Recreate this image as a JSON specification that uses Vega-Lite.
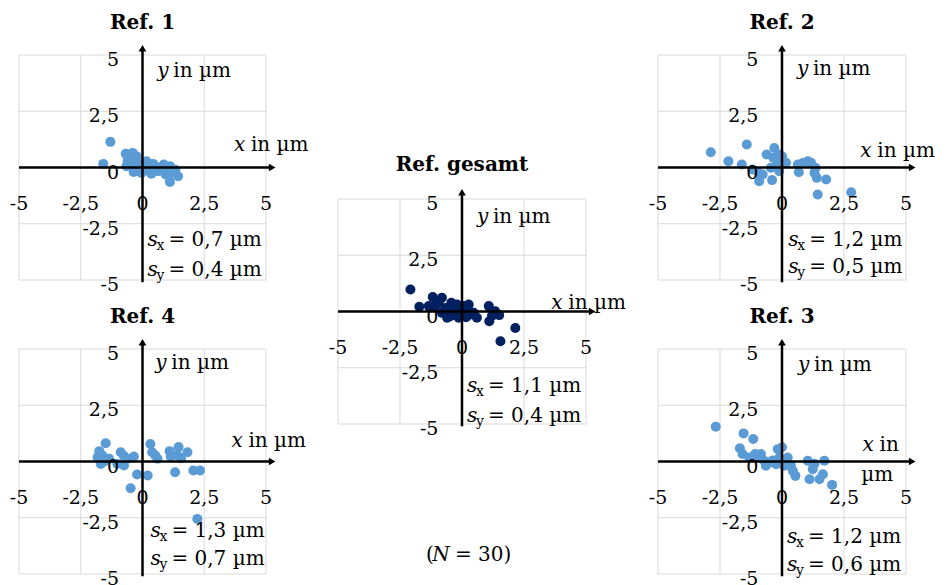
{
"$schema": "https://vega.github.io/schema/vega-lite/v6.json",
"padding": {"left": 9, "top": 12, "right": 0, "bottom": 0},
"background": "white",
"columns": 3, "bounds": "flush", "spacing": {"row": 69, "column": 72},
"datasets": {
"ticks": [{"v":-5,"l":"-5"},{"v":-2.5,"l":"-2,5"},{"v":0,"l":"0"},{"v":2.5,"l":"2,5"},{"v":5,"l":"5"}],
"ref1": [{"x":-1.30,"y":1.14},{"x":-1.59,"y":0.16},{"x":-0.68,"y":0.61},{"x":-0.40,"y":0.65},{"x":-0.51,"y":0.36},{"x":-0.31,"y":0.36},{"x":-0.45,"y":0.06},{"x":-0.27,"y":-0.16},{"x":-0.11,"y":0.21},{"x":0.16,"y":0.28},{"x":0.30,"y":0.06},{"x":0.36,"y":-0.28},{"x":0.64,"y":-0.16},{"x":0.86,"y":0.13},{"x":1.11,"y":0.06},{"x":1.17,"y":-0.24},{"x":1.44,"y":-0.39},{"x":1.11,"y":-0.64},{"x":-0.04,"y":-0.24},{"x":0.09,"y":-0.01},{"x":-0.65,"y":0.06},{"x":0.57,"y":0.01},{"x":0.94,"y":-0.31},{"x":-0.24,"y":0.50},{"x":0.43,"y":0.16},{"x":0.82,"y":-0.05},{"x":-0.36,"y":-0.20},{"x":0.20,"y":-0.12},{"x":1.33,"y":-0.10},{"x":-0.60,"y":0.30}],
"ref2": [{"x":-2.87,"y":0.68},{"x":-2.16,"y":0.28},{"x":-1.62,"y":0.13},{"x":-1.42,"y":1.02},{"x":-1.19,"y":-0.09},{"x":-0.92,"y":-0.61},{"x":-0.78,"y":-0.31},{"x":-0.40,"y":-0.56},{"x":-0.62,"y":0.58},{"x":-0.31,"y":0.87},{"x":-0.35,"y":0.43},{"x":-0.13,"y":0.58},{"x":-0.24,"y":0.06},{"x":-0.11,"y":-0.16},{"x":0.16,"y":0.21},{"x":0.64,"y":0.13},{"x":0.68,"y":-0.21},{"x":1.04,"y":0.28},{"x":1.17,"y":0.21},{"x":1.35,"y":-0.01},{"x":1.31,"y":-0.24},{"x":1.40,"y":-0.46},{"x":1.78,"y":-0.53},{"x":1.44,"y":-1.20},{"x":-0.13,"y":0.21},{"x":-0.45,"y":-0.01},{"x":0.84,"y":0.20},{"x":0.00,"y":0.50},{"x":2.79,"y":-1.10},{"x":-0.94,"y":-0.24}],
"gesamt": [{"x":-2.08,"y":0.98},{"x":-1.72,"y":0.21},{"x":-1.18,"y":0.64},{"x":-0.81,"y":0.61},{"x":-1.08,"y":0.24},{"x":-0.67,"y":0.16},{"x":-0.43,"y":0.39},{"x":-0.20,"y":0.31},{"x":0.07,"y":0.24},{"x":0.24,"y":0.09},{"x":0.47,"y":-0.06},{"x":0.60,"y":-0.28},{"x":-0.47,"y":-0.21},{"x":-0.13,"y":-0.28},{"x":0.16,"y":-0.25},{"x":1.08,"y":0.24},{"x":1.34,"y":0.01},{"x":1.50,"y":-0.16},{"x":1.10,"y":-0.43},{"x":2.15,"y":-0.73},{"x":1.55,"y":-1.32},{"x":-0.81,"y":-0.06},{"x":-0.34,"y":0.02},{"x":0.34,"y":-0.13},{"x":-0.94,"y":0.39},{"x":-0.07,"y":-0.04},{"x":1.21,"y":-0.19},{"x":-0.60,"y":-0.28},{"x":0.27,"y":0.31},{"x":-1.34,"y":0.24}],
"ref4": [{"x":-1.49,"y":0.81},{"x":-1.75,"y":0.46},{"x":-1.62,"y":0.27},{"x":-1.69,"y":-0.11},{"x":-1.35,"y":0.12},{"x":-0.88,"y":0.41},{"x":-0.75,"y":-0.18},{"x":-0.62,"y":0.12},{"x":-0.35,"y":0.22},{"x":-0.22,"y":-0.58},{"x":-0.48,"y":-1.19},{"x":0.21,"y":-0.62},{"x":0.32,"y":0.78},{"x":0.39,"y":0.41},{"x":0.61,"y":0.12},{"x":1.10,"y":0.46},{"x":1.46,"y":0.64},{"x":1.42,"y":0.27},{"x":1.82,"y":0.41},{"x":1.32,"y":-0.48},{"x":2.06,"y":-0.40},{"x":2.33,"y":-0.40},{"x":2.22,"y":-2.55},{"x":-1.02,"y":-0.11},{"x":-1.82,"y":0.19},{"x":1.14,"y":0.22},{"x":0.52,"y":0.27},{"x":-0.75,"y":0.24},{"x":-1.55,"y":0.00},{"x":1.56,"y":0.14}],
"ref3": [{"x":-2.67,"y":1.55},{"x":-1.55,"y":1.25},{"x":-1.16,"y":1.00},{"x":-1.70,"y":0.59},{"x":-1.59,"y":0.33},{"x":-1.08,"y":0.33},{"x":-0.85,"y":0.33},{"x":-0.72,"y":0.03},{"x":-0.51,"y":-0.04},{"x":-0.24,"y":-0.12},{"x":-0.17,"y":0.55},{"x":0.00,"y":0.63},{"x":0.23,"y":0.18},{"x":0.36,"y":-0.19},{"x":0.54,"y":-0.64},{"x":1.04,"y":0.03},{"x":1.24,"y":-0.34},{"x":1.11,"y":-0.79},{"x":1.71,"y":0.03},{"x":1.65,"y":-0.57},{"x":1.51,"y":-0.79},{"x":2.02,"y":-1.04},{"x":-0.65,"y":-0.19},{"x":-0.92,"y":0.19},{"x":0.09,"y":-0.19},{"x":-1.32,"y":0.18},{"x":-0.38,"y":0.05},{"x":0.44,"y":-0.42},{"x":1.31,"y":-0.10},{"x":-0.10,"y":0.18}]
},
"concat": [
{
"width": 247, "height": 225, "title": {"text": "Ref. 1"},
"layer": [
{"data":{"name":"ticks"},"mark":{"type":"rule","color":"#d9d9d9","strokeWidth":1},"encoding":{"x":{"field":"v","type":"quantitative","scale":{"domain":[-5,5],"nice":false}},"y":{"datum":-5,"scale":{"domain":[-5,5],"nice":false}},"y2":{"datum":5}}},
{"data":{"name":"ticks"},"mark":{"type":"rule","color":"#d9d9d9","strokeWidth":1},"encoding":{"y":{"field":"v","type":"quantitative"},"x":{"datum":-5},"x2":{"datum":5}}},
{"data":{"name":"ref1"},"mark":{"type":"circle","size":100,"opacity":1,"color":"#5B9BD5"},"encoding":{"x":{"field":"x","type":"quantitative"},"y":{"field":"y","type":"quantitative"}}},
{"data":{"values":[{}]},"mark":{"type":"rule","strokeWidth":2.5,"color":"black"},"encoding":{"x":{"datum":-5},"x2":{"datum":5.25},"y":{"datum":0}}},
{"data":{"values":[{}]},"mark":{"type":"rule","strokeWidth":2.5,"color":"black"},"encoding":{"x":{"datum":0},"y":{"datum":-5.1},"y2":{"datum":5.3}}},
{"data":{"values":[{}]},"mark":{"type":"point","shape":"triangle-right","filled":true,"size":60,"color":"black","opacity":1},"encoding":{"x":{"datum":5.25},"y":{"datum":0}}},
{"data":{"values":[{}]},"mark":{"type":"point","shape":"triangle-up","filled":true,"size":60,"color":"black","opacity":1},"encoding":{"x":{"datum":0},"y":{"datum":5.3}}},
{"data":{"name":"ticks"},"mark":{"type":"text"},"encoding":{"x":{"field":"v","type":"quantitative"},"y":{"datum":-1.6},"text":{"field":"l"}}},
{"data":{"name":"ticks"},"mark":{"type":"text","align":"right","dy":5},"encoding":{"y":{"field":"v","type":"quantitative"},"x":{"datum":-0.95},"text":{"field":"l"}}},
{"data":{"values":[{"t":"x"}]},"mark":{"type":"text","align":"left","fontStyle":"italic","fontSize":20},"encoding":{"x":{"datum":3.7},"y":{"datum":1.0},"text":{"field":"t"}}},
{"data":{"values":[{"t":"in µm"}]},"mark":{"type":"text","align":"left","dx":17,"fontSize":20},"encoding":{"x":{"datum":3.7},"y":{"datum":1.0},"text":{"field":"t"}}},
{"data":{"values":[{"t":"y"}]},"mark":{"type":"text","align":"left","fontStyle":"italic","fontSize":20},"encoding":{"x":{"datum":0.6},"y":{"datum":4.3},"text":{"field":"t"}}},
{"data":{"values":[{"t":"in µm"}]},"mark":{"type":"text","align":"left","dx":16,"fontSize":20},"encoding":{"x":{"datum":0.6},"y":{"datum":4.3},"text":{"field":"t"}}},
{"data":{"values":[{}]},"mark":{"type":"text","align":"left","fontStyle":"italic","fontSize":20,"text":["s","s"],"lineHeight":30},"encoding":{"x":{"datum":0.2},"y":{"datum":-3.24}}},
{"data":{"values":[{}]},"mark":{"type":"text","align":"left","fontSize":14,"dx":9,"dy":6,"text":["x","y"],"lineHeight":30},"encoding":{"x":{"datum":0.2},"y":{"datum":-3.24}}},
{"data":{"values":[{}]},"mark":{"type":"text","align":"left","fontSize":20,"dx":21,"text":["= 0,7 µm","= 0,4 µm"],"lineHeight":30},"encoding":{"x":{"datum":0.2},"y":{"datum":-3.24}}}
]
},
{
"width": 248, "height": 225,
"layer": [
{"data":{"name":"ticks"},"mark":{"type":"rule","color":"#d9d9d9","strokeWidth":1},"encoding":{"x":{"field":"v","type":"quantitative","scale":{"domain":[-5,5],"nice":false}},"y":{"datum":-5,"scale":{"domain":[-5,5],"nice":false,"range":[369,144]}},"y2":{"datum":5}}},
{"data":{"name":"ticks"},"mark":{"type":"rule","color":"#d9d9d9","strokeWidth":1},"encoding":{"y":{"field":"v","type":"quantitative","scale":{"domain":[-5,5],"nice":false,"range":[369,144]}},"x":{"datum":-5},"x2":{"datum":5}}},
{"data":{"name":"gesamt"},"mark":{"type":"circle","size":100,"opacity":1,"color":"#002060"},"encoding":{"x":{"field":"x","type":"quantitative"},"y":{"field":"y","type":"quantitative"}}},
{"data":{"values":[{}]},"mark":{"type":"rule","strokeWidth":2.5,"color":"black"},"encoding":{"x":{"datum":-5},"x2":{"datum":5.25},"y":{"datum":0}}},
{"data":{"values":[{}]},"mark":{"type":"rule","strokeWidth":2.5,"color":"black"},"encoding":{"x":{"datum":0},"y":{"datum":-5.1},"y2":{"datum":5.3}}},
{"data":{"values":[{}]},"mark":{"type":"point","shape":"triangle-right","filled":true,"size":60,"color":"black","opacity":1},"encoding":{"x":{"datum":5.25},"y":{"datum":0}}},
{"data":{"values":[{}]},"mark":{"type":"point","shape":"triangle-up","filled":true,"size":60,"color":"black","opacity":1},"encoding":{"x":{"datum":0},"y":{"datum":5.3}}},
{"data":{"name":"ticks"},"mark":{"type":"text"},"encoding":{"x":{"field":"v","type":"quantitative"},"y":{"datum":-1.6},"text":{"field":"l"}}},
{"data":{"name":"ticks"},"mark":{"type":"text","align":"right","dy":5},"encoding":{"y":{"field":"v","type":"quantitative"},"x":{"datum":-0.95},"text":{"field":"l"}}},
{"data":{"values":[{"t":"Ref. gesamt"}]},"mark":{"type":"text","fontWeight":"bold","fontSize":20,"baseline":"alphabetic"},"encoding":{"x":{"datum":0},"y":{"datum":6.25},"text":{"field":"t"}}},
{"data":{"values":[{"t":"x"}]},"mark":{"type":"text","align":"left","fontStyle":"italic","fontSize":20},"encoding":{"x":{"datum":3.6},"y":{"datum":0.4},"text":{"field":"t"}}},
{"data":{"values":[{"t":"in µm"}]},"mark":{"type":"text","align":"left","dx":17,"fontSize":20},"encoding":{"x":{"datum":3.6},"y":{"datum":0.4},"text":{"field":"t"}}},
{"data":{"values":[{"t":"y"}]},"mark":{"type":"text","align":"left","fontStyle":"italic","fontSize":20},"encoding":{"x":{"datum":0.6},"y":{"datum":4.2},"text":{"field":"t"}}},
{"data":{"values":[{"t":"in µm"}]},"mark":{"type":"text","align":"left","dx":16,"fontSize":20},"encoding":{"x":{"datum":0.6},"y":{"datum":4.2},"text":{"field":"t"}}},
{"data":{"values":[{}]},"mark":{"type":"text","align":"left","fontStyle":"italic","fontSize":20,"text":["s","s"],"lineHeight":30},"encoding":{"x":{"datum":0.2},"y":{"datum":-3.29}}},
{"data":{"values":[{}]},"mark":{"type":"text","align":"left","fontSize":14,"dx":9,"dy":6,"text":["x","y"],"lineHeight":30},"encoding":{"x":{"datum":0.2},"y":{"datum":-3.29}}},
{"data":{"values":[{}]},"mark":{"type":"text","align":"left","fontSize":20,"dx":21,"text":["= 1,1 µm","= 0,4 µm"],"lineHeight":30},"encoding":{"x":{"datum":0.2},"y":{"datum":-3.29}}},
{"data":{"values":[{"t":"("}]},"mark":{"type":"text","align":"right","dx":-7,"fontSize":20},"encoding":{"x":{"datum":-0.85},"y":{"datum":-10.82},"text":{"field":"t"}}},
{"data":{"values":[{"t":"N"}]},"mark":{"type":"text","align":"center","fontStyle":"italic","fontSize":20},"encoding":{"x":{"datum":-0.85},"y":{"datum":-10.82},"text":{"field":"t"}}},
{"data":{"values":[{"t":"= 30)"}]},"mark":{"type":"text","align":"left","dx":14,"fontSize":20},"encoding":{"x":{"datum":-0.85},"y":{"datum":-10.82},"text":{"field":"t"}}}
]
},
{
"width": 248, "height": 225, "title": {"text": "Ref. 2"},
"layer": [
{"data":{"name":"ticks"},"mark":{"type":"rule","color":"#d9d9d9","strokeWidth":1},"encoding":{"x":{"field":"v","type":"quantitative","scale":{"domain":[-5,5],"nice":false}},"y":{"datum":-5,"scale":{"domain":[-5,5],"nice":false}},"y2":{"datum":5}}},
{"data":{"name":"ticks"},"mark":{"type":"rule","color":"#d9d9d9","strokeWidth":1},"encoding":{"y":{"field":"v","type":"quantitative"},"x":{"datum":-5},"x2":{"datum":5}}},
{"data":{"name":"ref2"},"mark":{"type":"circle","size":100,"opacity":1,"color":"#5B9BD5"},"encoding":{"x":{"field":"x","type":"quantitative"},"y":{"field":"y","type":"quantitative"}}},
{"data":{"values":[{}]},"mark":{"type":"rule","strokeWidth":2.5,"color":"black"},"encoding":{"x":{"datum":-5},"x2":{"datum":5.25},"y":{"datum":0}}},
{"data":{"values":[{}]},"mark":{"type":"rule","strokeWidth":2.5,"color":"black"},"encoding":{"x":{"datum":0},"y":{"datum":-5.1},"y2":{"datum":5.3}}},
{"data":{"values":[{}]},"mark":{"type":"point","shape":"triangle-right","filled":true,"size":60,"color":"black","opacity":1},"encoding":{"x":{"datum":5.25},"y":{"datum":0}}},
{"data":{"values":[{}]},"mark":{"type":"point","shape":"triangle-up","filled":true,"size":60,"color":"black","opacity":1},"encoding":{"x":{"datum":0},"y":{"datum":5.3}}},
{"data":{"name":"ticks"},"mark":{"type":"text"},"encoding":{"x":{"field":"v","type":"quantitative"},"y":{"datum":-1.6},"text":{"field":"l"}}},
{"data":{"name":"ticks"},"mark":{"type":"text","align":"right","dy":5},"encoding":{"y":{"field":"v","type":"quantitative"},"x":{"datum":-0.95},"text":{"field":"l"}}},
{"data":{"values":[{"t":"x"}]},"mark":{"type":"text","align":"left","fontStyle":"italic","fontSize":20},"encoding":{"x":{"datum":3.16},"y":{"datum":0.75},"text":{"field":"t"}}},
{"data":{"values":[{"t":"in µm"}]},"mark":{"type":"text","align":"left","dx":17,"fontSize":20},"encoding":{"x":{"datum":3.16},"y":{"datum":0.75},"text":{"field":"t"}}},
{"data":{"values":[{"t":"y"}]},"mark":{"type":"text","align":"left","fontStyle":"italic","fontSize":20},"encoding":{"x":{"datum":0.6},"y":{"datum":4.36},"text":{"field":"t"}}},
{"data":{"values":[{"t":"in µm"}]},"mark":{"type":"text","align":"left","dx":16,"fontSize":20},"encoding":{"x":{"datum":0.6},"y":{"datum":4.36},"text":{"field":"t"}}},
{"data":{"values":[{}]},"mark":{"type":"text","align":"left","fontStyle":"italic","fontSize":20,"text":["s","s"],"lineHeight":27},"encoding":{"x":{"datum":0.25},"y":{"datum":-3.24}}},
{"data":{"values":[{}]},"mark":{"type":"text","align":"left","fontSize":14,"dx":9,"dy":6,"text":["x","y"],"lineHeight":27},"encoding":{"x":{"datum":0.25},"y":{"datum":-3.24}}},
{"data":{"values":[{}]},"mark":{"type":"text","align":"left","fontSize":20,"dx":21,"text":["= 1,2 µm","= 0,5 µm"],"lineHeight":27},"encoding":{"x":{"datum":0.25},"y":{"datum":-3.24}}}
]
},
{
"width": 247, "height": 225, "title": {"text": "Ref. 4"},
"layer": [
{"data":{"name":"ticks"},"mark":{"type":"rule","color":"#d9d9d9","strokeWidth":1},"encoding":{"x":{"field":"v","type":"quantitative","scale":{"domain":[-5,5],"nice":false}},"y":{"datum":-5,"scale":{"domain":[-5,5],"nice":false}},"y2":{"datum":5}}},
{"data":{"name":"ticks"},"mark":{"type":"rule","color":"#d9d9d9","strokeWidth":1},"encoding":{"y":{"field":"v","type":"quantitative"},"x":{"datum":-5},"x2":{"datum":5}}},
{"data":{"name":"ref4"},"mark":{"type":"circle","size":100,"opacity":1,"color":"#5B9BD5"},"encoding":{"x":{"field":"x","type":"quantitative"},"y":{"field":"y","type":"quantitative"}}},
{"data":{"values":[{}]},"mark":{"type":"rule","strokeWidth":2.5,"color":"black"},"encoding":{"x":{"datum":-5},"x2":{"datum":5.25},"y":{"datum":0}}},
{"data":{"values":[{}]},"mark":{"type":"rule","strokeWidth":2.5,"color":"black"},"encoding":{"x":{"datum":0},"y":{"datum":-5.1},"y2":{"datum":5.3}}},
{"data":{"values":[{}]},"mark":{"type":"point","shape":"triangle-right","filled":true,"size":60,"color":"black","opacity":1},"encoding":{"x":{"datum":5.25},"y":{"datum":0}}},
{"data":{"values":[{}]},"mark":{"type":"point","shape":"triangle-up","filled":true,"size":60,"color":"black","opacity":1},"encoding":{"x":{"datum":0},"y":{"datum":5.3}}},
{"data":{"name":"ticks"},"mark":{"type":"text"},"encoding":{"x":{"field":"v","type":"quantitative"},"y":{"datum":-1.6},"text":{"field":"l"}}},
{"data":{"name":"ticks"},"mark":{"type":"text","align":"right","dy":5},"encoding":{"y":{"field":"v","type":"quantitative"},"x":{"datum":-0.95},"text":{"field":"l"}}},
{"data":{"values":[{"t":"x"}]},"mark":{"type":"text","align":"left","fontStyle":"italic","fontSize":20},"encoding":{"x":{"datum":3.6},"y":{"datum":0.9},"text":{"field":"t"}}},
{"data":{"values":[{"t":"in µm"}]},"mark":{"type":"text","align":"left","dx":17,"fontSize":20},"encoding":{"x":{"datum":3.6},"y":{"datum":0.9},"text":{"field":"t"}}},
{"data":{"values":[{"t":"y"}]},"mark":{"type":"text","align":"left","fontStyle":"italic","fontSize":20},"encoding":{"x":{"datum":0.52},"y":{"datum":4.36},"text":{"field":"t"}}},
{"data":{"values":[{"t":"in µm"}]},"mark":{"type":"text","align":"left","dx":16,"fontSize":20},"encoding":{"x":{"datum":0.52},"y":{"datum":4.36},"text":{"field":"t"}}},
{"data":{"values":[{}]},"mark":{"type":"text","align":"left","fontStyle":"italic","fontSize":20,"text":["s","s"],"lineHeight":28},"encoding":{"x":{"datum":0.32},"y":{"datum":-3.1}}},
{"data":{"values":[{}]},"mark":{"type":"text","align":"left","fontSize":14,"dx":9,"dy":6,"text":["x","y"],"lineHeight":28},"encoding":{"x":{"datum":0.32},"y":{"datum":-3.1}}},
{"data":{"values":[{}]},"mark":{"type":"text","align":"left","fontSize":20,"dx":21,"text":["= 1,3 µm","= 0,7 µm"],"lineHeight":28},"encoding":{"x":{"datum":0.32},"y":{"datum":-3.1}}}
]
},
{"width": 248, "height": 225, "data": {"values": []}, "mark": "point"},
{
"width": 248, "height": 225, "title": {"text": "Ref. 3"},
"layer": [
{"data":{"name":"ticks"},"mark":{"type":"rule","color":"#d9d9d9","strokeWidth":1},"encoding":{"x":{"field":"v","type":"quantitative","scale":{"domain":[-5,5],"nice":false}},"y":{"datum":-5,"scale":{"domain":[-5,5],"nice":false}},"y2":{"datum":5}}},
{"data":{"name":"ticks"},"mark":{"type":"rule","color":"#d9d9d9","strokeWidth":1},"encoding":{"y":{"field":"v","type":"quantitative"},"x":{"datum":-5},"x2":{"datum":5}}},
{"data":{"name":"ref3"},"mark":{"type":"circle","size":100,"opacity":1,"color":"#5B9BD5"},"encoding":{"x":{"field":"x","type":"quantitative"},"y":{"field":"y","type":"quantitative"}}},
{"data":{"values":[{}]},"mark":{"type":"rule","strokeWidth":2.5,"color":"black"},"encoding":{"x":{"datum":-5},"x2":{"datum":5.25},"y":{"datum":0}}},
{"data":{"values":[{}]},"mark":{"type":"rule","strokeWidth":2.5,"color":"black"},"encoding":{"x":{"datum":0},"y":{"datum":-5.1},"y2":{"datum":5.3}}},
{"data":{"values":[{}]},"mark":{"type":"point","shape":"triangle-right","filled":true,"size":60,"color":"black","opacity":1},"encoding":{"x":{"datum":5.25},"y":{"datum":0}}},
{"data":{"values":[{}]},"mark":{"type":"point","shape":"triangle-up","filled":true,"size":60,"color":"black","opacity":1},"encoding":{"x":{"datum":0},"y":{"datum":5.3}}},
{"data":{"name":"ticks"},"mark":{"type":"text"},"encoding":{"x":{"field":"v","type":"quantitative"},"y":{"datum":-1.6},"text":{"field":"l"}}},
{"data":{"name":"ticks"},"mark":{"type":"text","align":"right","dy":5},"encoding":{"y":{"field":"v","type":"quantitative"},"x":{"datum":-0.95},"text":{"field":"l"}}},
{"data":{"values":[{"t":"x"}]},"mark":{"type":"text","align":"left","fontStyle":"italic","fontSize":20},"encoding":{"x":{"datum":3.25},"y":{"datum":0.75},"text":{"field":"t"}}},
{"data":{"values":[{"t":"in"}]},"mark":{"type":"text","align":"left","dx":17,"fontSize":20},"encoding":{"x":{"datum":3.25},"y":{"datum":0.75},"text":{"field":"t"}}},
{"data":{"values":[{"t":"µm"}]},"mark":{"type":"text","align":"left","fontSize":20},"encoding":{"x":{"datum":3.2},"y":{"datum":-0.58},"text":{"field":"t"}}},
{"data":{"values":[{"t":"y"}]},"mark":{"type":"text","align":"left","fontStyle":"italic","fontSize":20},"encoding":{"x":{"datum":0.65},"y":{"datum":4.29},"text":{"field":"t"}}},
{"data":{"values":[{"t":"in µm"}]},"mark":{"type":"text","align":"left","dx":16,"fontSize":20},"encoding":{"x":{"datum":0.65},"y":{"datum":4.29},"text":{"field":"t"}}},
{"data":{"values":[{}]},"mark":{"type":"text","align":"left","fontStyle":"italic","fontSize":20,"text":["s","s"],"lineHeight":28},"encoding":{"x":{"datum":0.2},"y":{"datum":-3.35}}},
{"data":{"values":[{}]},"mark":{"type":"text","align":"left","fontSize":14,"dx":9,"dy":6,"text":["x","y"],"lineHeight":28},"encoding":{"x":{"datum":0.2},"y":{"datum":-3.35}}},
{"data":{"values":[{}]},"mark":{"type":"text","align":"left","fontSize":20,"dx":21,"text":["= 1,2 µm","= 0,6 µm"],"lineHeight":28},"encoding":{"x":{"datum":0.2},"y":{"datum":-3.35}}}
]
}
],
"config": {
"view": {"stroke": null},
"axis": {"disable": true},
"text": {"font": "DejaVu Serif", "fontSize": 19, "color": "black"},
"title": {"font": "DejaVu Serif", "fontSize": 20, "fontWeight": "bold", "color": "black", "frame": "group", "anchor": "middle", "offset": 12}
}
}
